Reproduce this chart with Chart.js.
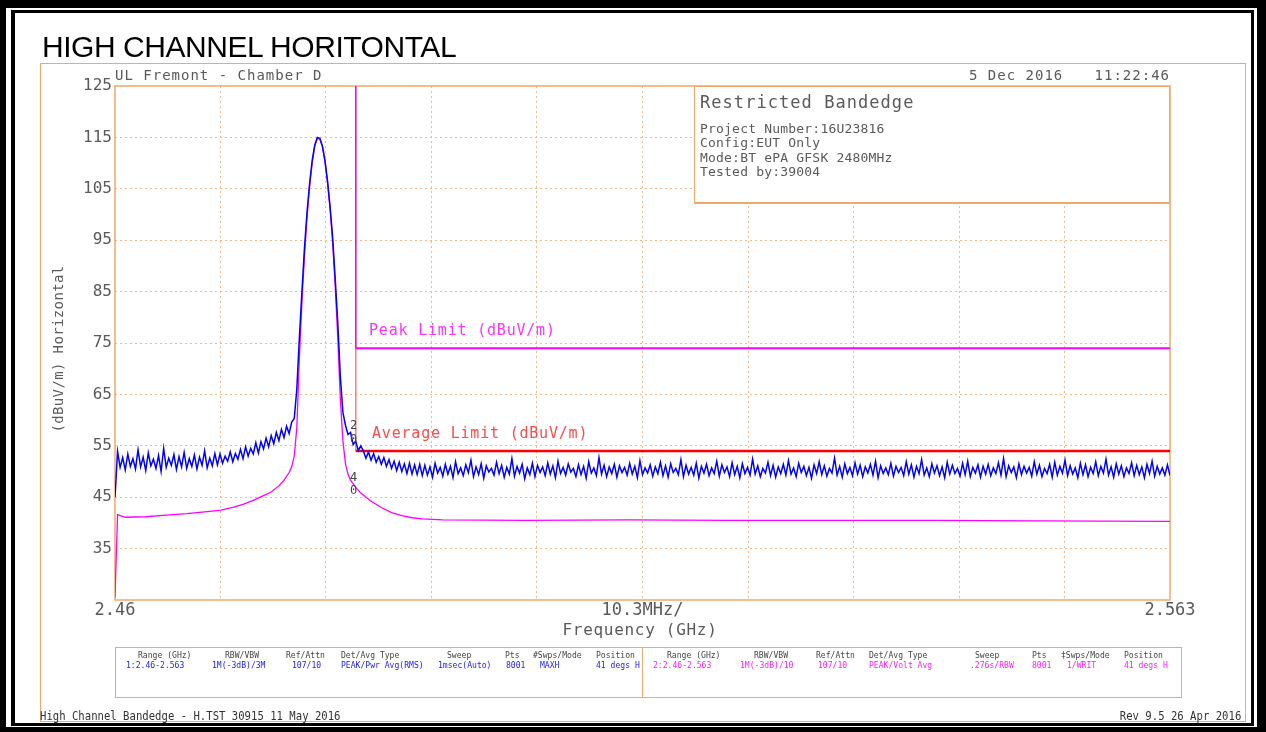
<!DOCTYPE html>
<html><head><meta charset="utf-8">
<script src="https://cdn.jsdelivr.net/npm/chart.js@4.4.1/dist/chart.umd.min.js"></script>
<style>
html,body{margin:0;padding:0;width:1266px;height:732px;overflow:hidden;background:#fff;}
#c{position:absolute;left:0;top:0;}
.t{position:absolute;white-space:pre;line-height:1;font-family:'DejaVu Sans Mono',monospace;color:#5a5a5a;}
.box{position:absolute;box-sizing:border-box;}
</style></head><body>
<canvas id="c" width="1266" height="732"></canvas>
<div id="overlay"></div>
<script>
// ---------------- DATA ----------------
const sweepStartMHz = 2460;
const sweepStepMHz = 0.25;
// Peak detector trace (MAXH), one value per sweep step from 2460.00 MHz to 2563.00 MHz
const peakTraceLevels = [
45.0,
53.9,50.8,52.7,50.3,53.4,51.0,52.5,50.5,54.2,50.9,
52.8,50.2,53.6,51.1,52.4,50.6,53.1,50.0,54.5,50.8,
52.6,51.2,53.3,50.4,52.9,50.9,53.7,50.6,52.5,51.0,
53.2,50.5,52.8,51.2,54.0,50.7,52.6,51.1,53.5,51.3,
53.4,51.6,53.0,52.0,53.8,51.9,53.5,52.4,54.3,52.5,
54.8,53.0,54.5,53.4,55.6,53.6,55.8,54.4,56.5,54.8,
57.0,55.4,57.6,56.0,58.2,56.6,58.8,57.4,59.6,60.3,
66.0,76.0,85.0,93.5,100.5,106.0,110.5,113.5,115.0,114.8,
113.3,110.5,106.5,101.5,95.5,87.5,79.0,68.5,61.5,59.0,
57.2,57.6,55.2,55.9,54.1,55.0,
54.0,52.6,53.8,52.2,53.5,51.8,52.9,51.4,52.7,51.0,
52.3,50.6,52.0,50.2,51.8,50.0,51.5,49.6,51.6,49.5,
51.3,49.4,51.4,49.2,
51.2,49.3,50.9,48.9,51.6,49.7,50.8,49.1,51.4,49.5,
51.0,48.8,51.9,49.6,50.7,49.2,51.3,49.8,52.2,49.0,
50.9,49.4,51.5,48.7,51.1,49.9,50.6,49.3,51.8,49.6,
51.2,48.9,50.8,49.5,52.5,49.1,51.0,49.7,51.4,48.6,
50.7,49.4,51.6,49.0,51.2,49.8,50.9,49.2,51.7,49.5,
51.1,48.8,52.0,49.6,50.8,49.3,51.5,49.9,50.6,49.0,
51.3,49.4,51.0,48.7,51.9,49.7,50.7,49.2,52.7,49.5,
51.2,49.0,50.9,49.6,51.4,48.9,51.1,49.8,50.8,49.3,
51.6,49.5,51.0,48.8,52.1,49.4,50.7,49.7,51.3,49.1,
50.9,49.6,51.8,49.2,51.1,48.9,51.5,49.8,50.6,49.4,
52.3,49.0,51.2,49.5,50.8,49.3,51.6,48.7,51.0,49.7,
51.4,49.2,50.7,49.6,52.0,49.1,51.3,49.8,50.9,49.0,
51.7,49.4,51.0,48.8,51.5,49.6,50.8,49.3,52.4,49.5,
51.1,49.0,50.6,49.7,51.8,49.2,51.2,48.9,50.9,49.6,
51.4,49.3,52.1,49.5,50.7,49.0,51.6,49.8,51.0,49.2,
50.8,48.7,51.3,49.6,51.9,49.4,51.1,49.1,50.6,49.7,
52.6,49.3,51.0,48.9,51.5,49.6,50.8,49.2,51.7,49.5,
51.2,49.0,50.9,49.7,51.4,49.3,52.0,48.8,51.1,49.6,
50.7,49.4,51.6,49.1,51.0,49.8,50.8,49.2,51.9,49.5,
51.3,48.9,51.0,49.6,52.3,49.3,50.7,49.0,51.5,49.7,
51.1,49.2,50.9,48.8,51.8,49.5,51.2,49.6,50.6,49.1,
51.6,49.4,52.0,49.0,50.8,49.7,51.3,48.9,51.0,49.5,
51.4,49.2,50.7,49.6,51.7,49.3,52.5,49.0,51.1,49.8,
50.9,48.8,51.5,49.4,51.0,49.7,50.8,49.1,51.9,49.5,
51.2,49.0,50.6,49.6,51.4,48.9,51.8,49.3,51.0,49.7,
52.2,49.2,51.1,49.5,50.7,48.8,51.6,49.4,51.3,49.0,
50.8,49.6,51.9,49.2,51.0,49.7,52.4,49.3,50.9,48.9,
51.5,49.5,51.1,49.0,50.7,49.6,51.7,49.2,51.2,49.4,
50.9,48.8,51.4,49.6,52.0,49.1,51.0,49.5,50.7,49.3,
51.3,49.2
];
// Average detector trace (WRIT)
const avgFreqMHz = [2460.0,2460.25,2461,2463,2465,2467,2469,2470.35,2471.5,2472.5,2473.5,2474.5,2475.25,2476.0,2476.5,2477.0,2477.25,2477.5,2477.75,2478.0,2478.25,2478.5,2478.75,2479.0,2479.25,2479.5,2479.75,2480.0,2480.25,2480.5,2480.75,2481.0,2481.25,2481.5,2481.75,2482.0,2482.25,2482.5,2482.75,2483.0,2483.5,2484.0,2485.0,2486.0,2487.0,2488.0,2489.0,2490.0,2492.0,2500.0,2510.0,2520.0,2530.0,2540.0,2550.0,2563.0];
const avgLevels =  [25.5,41.6,41.1,41.2,41.5,41.8,42.2,42.5,43.0,43.6,44.4,45.3,46.0,47.2,48.3,49.8,50.9,53.0,58.5,72.0,83.0,92.0,99.5,105.5,110.0,113.3,114.8,114.7,113.2,110.3,106.2,101.0,94.5,86.0,76.0,64.0,56.0,51.5,49.5,48.3,46.9,45.8,44.2,43.0,42.0,41.4,41.0,40.8,40.6,40.5,40.6,40.5,40.5,40.5,40.4,40.3];
// Limit lines (restricted band edge at 2483.5 MHz)
const limitFreqMHz = [2483.5, 2483.5, 2563];
const peakLimitLevels = [125, 74, 74];
const avgLimitLevels = [125, 54, 54];
// Axes
const xGridMHz = [2460, 2470.3, 2480.6, 2490.9, 2501.2, 2511.5, 2521.8, 2532.1, 2542.4, 2552.7, 2563];
const xTickLabels = ['2.46','','','','','10.3MHz/','','','','','2.563'];
const yTickValues = [25,35,45,55,65,75,85,95,105,115,125];
const yTickLabels = ['','35','45','55','65','75','85','95','105','115','125'];
// Table rows
const tblHeadLeft = [['Range (GHz)',138],['RBW/VBW',225],['Ref/Attn',286],['Det/Avg Type',341],['Sweep',447],['Pts',505],['#Swps/Mode',533],['Position',596]];
const tblValLeft = [['1:2.46-2.563',125.5],['1M(-3dB)/3M',212],['107/10',292],['PEAK/Pwr Avg(RMS)',341],['1msec(Auto)',437.5],['8001',506],['MAXH',540],['41 degs H',596]];
const tblHeadRight = [['Range (GHz)',667],['RBW/VBW',753.5],['Ref/Attn',816],['Det/Avg Type',868.5],['Sweep',975],['Pts',1032],['\u2021Swps/Mode',1061],['Position',1124]];
const tblValRight = [['2:2.46-2.563',652.5],['1M(-3dB)/10',740],['107/10',818],['PEAK/Volt Avg',868.5],['.276s/RBW',970],['8001',1032],['1/WRIT',1067],['41 degs H',1124]];

// ---------------- STYLE ----------------
const ORANGE = '#f0a86c';
const GRID = '#f2b88a';
const BLUE = '#0000ff';
const MAG = '#ff00ff';
const RED = '#ff0000';

// ---------------- OVERLAY ----------------
const ov = document.getElementById('overlay');
function box(l,t,w,h,css){const d=document.createElement('div');d.className='box';d.style.cssText=`left:${l}px;top:${t}px;width:${w}px;height:${h}px;`+css;ov.appendChild(d);return d;}
function txt(s,x,cy,fs,css){const d=document.createElement('div');d.className='t';d.textContent=s;d.style.cssText+=`left:${x}px;top:${cy-fs*0.48}px;font-size:${fs}px;`+(css||'');ov.appendChild(d);return d;}

// black frame
box(0,0,1266,732,'border-style:solid;border-color:#000;border-width:8px 9px 5px 6px;');
box(11,10,1243,716,'border-style:solid;border-color:#000;border-width:3px 3px 3px 4px;');
// orange outer frame
box(40,63,1206,659,`border:1px solid ${ORANGE};`);
// title
const ttl=document.createElement('div');ttl.className='t';ttl.textContent='HIGH CHANNEL HORITONTAL';
ttl.style.cssText+='left:42px;top:31.5px;font-family:"Liberation Sans",Arial,sans-serif;font-size:30px;letter-spacing:-0.45px;color:#000;';ov.appendChild(ttl);
// header texts
txt('UL Fremont - Chamber D',115,75,14,'letter-spacing:1px;');
txt('5 Dec 2016',969,75,14,'letter-spacing:1px;');
const tm=txt('11:22:46',0,75,14,'letter-spacing:1px;');tm.style.left='';tm.style.right=(1266-1170)+'px';
// axis titles
const yt=txt('(dBuV/m) Horizontal',58,349,14,'letter-spacing:0.37px;');yt.style.top='349px';yt.style.transform='translate(-50%,-50%) rotate(-90deg)';
const xt=txt('Frequency (GHz)',640,630,16,'letter-spacing:0.7px;');xt.style.transform='translateX(-50%)';
// info box
box(694,86,476,118,`border:1px solid ${ORANGE};border-bottom-width:2px;background:#fff;`);
txt('Restricted Bandedge',700,102,17,'letter-spacing:1.05px;');
txt('Project Number:16U23816',700,128,13,'letter-spacing:0.2px;');
txt('Config:EUT Only',700,142.5,13,'letter-spacing:0.2px;');
txt('Mode:BT ePA GFSK 2480MHz',700,157,13,'letter-spacing:0.2px;');
txt('Tested by:39004',700,171.5,13,'letter-spacing:0.2px;');
// limit labels
txt('Peak Limit (dBuV/m)',369,330,15,`letter-spacing:0.8px;color:#ff33ff;`);
txt('Average Limit (dBuV/m)',372,433,15,`letter-spacing:0.8px;color:#ff4a4a;`);
// marker labels
txt('2',350,425,12,'color:#444;');
txt('0',350,439,12,'color:#444;');
txt('4',350,477,12,'color:#444;');
txt('0',350,490,12,'color:#444;');
// table
box(115,647,1067,51,`border:1px solid ${ORANGE};`);
box(642,647,1,51,`background:${ORANGE};`);
function cell(s,x,cy,color){const d=txt(s,x,cy,9.5,`color:${color};transform:scaleX(0.85);transform-origin:0 50%;`);return d;}
tblHeadLeft.forEach(([s,x])=>cell(s,x,654.5,'#444'));
tblValLeft.forEach(([s,x])=>cell(s,x,665,'#1a1aff'));
tblHeadRight.forEach(([s,x])=>cell(s,x,654.5,'#444'));
tblValRight.forEach(([s,x])=>cell(s,x,665,'#ff1aff'));
// footer
txt('High Channel Bandedge - H.TST 30915 11 May 2016',40,715.5,12,'color:#333;transform:scaleX(0.885);transform-origin:0 50%;');
const rv=txt('Rev 9.5 26 Apr 2016',0,715.5,12,'color:#333;transform:scaleX(0.885);transform-origin:100% 50%;');rv.style.left='';rv.style.right=(1266-1241)+'px';

// ---------------- CHART ----------------
const peakTrace = peakTraceLevels.map((v,i)=>({x: sweepStartMHz + i*sweepStepMHz, y: v}));
const avgTrace = avgFreqMHz.map((f,i)=>({x:f, y:avgLevels[i]}));
const peakLimit = limitFreqMHz.map((f,i)=>({x:f, y:peakLimitLevels[i]}));
const avgLimit = limitFreqMHz.map((f,i)=>({x:f, y:avgLimitLevels[i]}));
const isVert = c => c.p0.parsed.x === c.p1.parsed.x;

const framePlugin = {
  id:'frame',
  beforeDatasetsDraw(chart){
    const {ctx, chartArea:{left,top,right,bottom}} = chart;
    ctx.save(); ctx.strokeStyle = ORANGE; ctx.lineWidth = 1.5;
    ctx.strokeRect(left, top, right-left, bottom-top); ctx.restore();
  }
};

Chart.defaults.font.family = "'DejaVu Sans Mono', monospace";
new Chart(document.getElementById('c'), {
  type:'line',
  data:{datasets:[
    {label:'Peak (MAXH)', data:peakTrace, borderColor:BLUE, borderWidth:1.5, pointRadius:0, tension:0, order:1},
    {label:'Average (WRIT)', data:avgTrace, borderColor:MAG, borderWidth:1.3, pointRadius:0, tension:0, order:2},
    {label:'Peak Limit', data:peakLimit, borderColor:MAG, borderWidth:2, pointRadius:0, order:3,
      segment:{borderWidth:c=>isVert(c)?1:2}},
    {label:'Average Limit', data:avgLimit, borderColor:RED, borderWidth:2.5, pointRadius:0, order:4,
      segment:{borderWidth:c=>isVert(c)?1:2.5, borderColor:c=>isVert(c)?'#ff7a7a':RED}}
  ]},
  options:{
    responsive:false, animation:false, devicePixelRatio:1,
    plugins:{legend:{display:false}, tooltip:{enabled:false}},
    layout:{padding:{left:0, top:86, right:96, bottom:92}},
    scales:{
      x:{type:'linear', min:2460, max:2563,
        afterBuildTicks:s=>{s.ticks = xGridMHz.map(v=>({value:v}));},
        afterFit:s=>{s.height = 40;},
        ticks:{autoSkip:false, maxRotation:0, minRotation:0, padding:0, color:'#5a5a5a', font:{size:17},
          callback:(v,i)=>xTickLabels[i]},
        grid:{drawTicks:false, lineWidth:1, color:c=>(c.index===0||c.index===xGridMHz.length-1)?'rgba(0,0,0,0)':GRID},
        border:{display:false, dash:[2,3]}
      },
      y:{type:'linear', min:25, max:125,
        afterBuildTicks:s=>{s.ticks = yTickValues.map(v=>({value:v}));},
        afterFit:s=>{s.width = 115;},
        ticks:{autoSkip:false, padding:3, color:'#5a5a5a', font:{size:16},
          callback:(v,i)=>yTickLabels[i]},
        grid:{drawTicks:false, lineWidth:1, color:c=>(c.index===0||c.index===yTickValues.length-1)?'rgba(0,0,0,0)':GRID},
        border:{display:false, dash:[2,3]}
      }
    }
  },
  plugins:[framePlugin]
});
</script>
</body></html>
